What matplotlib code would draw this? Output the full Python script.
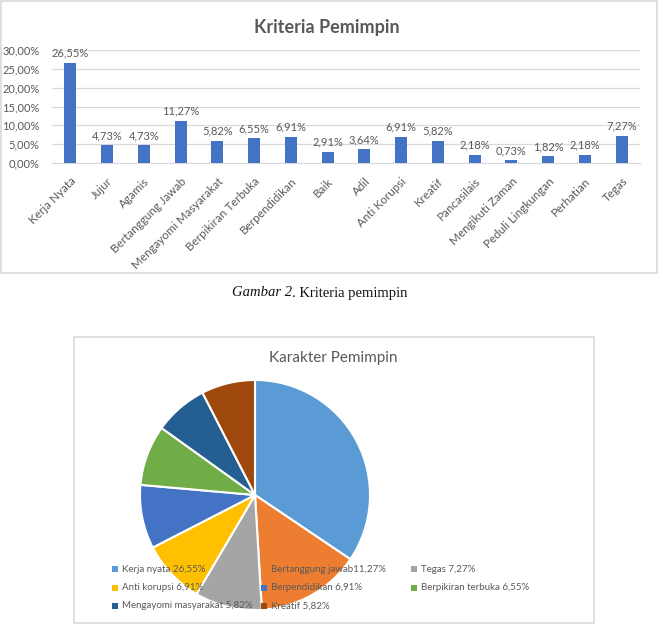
import matplotlib
matplotlib.use("Agg")
import matplotlib.pyplot as plt
from matplotlib.patches import Rectangle
from matplotlib.ticker import FuncFormatter

# ---------------- data ----------------
bar_categories = ["Kerja Nyata", "Jujur", "Agamis", "Bertanggung Jawab", "Mengayomi Masyarakat",
                  "Berpikiran Terbuka", "Berpendidikan", "Baik", "Adil", "Anti Korupsi", "Kreatif",
                  "Pancasilais", "Mengikuti Zaman", "Peduli Lingkungan", "Perhatian", "Tegas"]
bar_values = [26.55, 4.73, 4.73, 11.27, 5.82, 6.55, 6.91, 2.91, 3.64, 6.91, 5.82,
              2.18, 0.73, 1.82, 2.18, 7.27]
y_ticks = [0, 5, 10, 15, 20, 25, 30]

pie_names = ["Kerja nyata", "Bertanggung jawab", "Tegas", "Anti korupsi", "Berpendidikan",
             "Berpikiran terbuka", "Mengayomi masyarakat", "Kreatif"]
pie_values = [26.55, 11.27, 7.27, 6.91, 6.91, 6.55, 5.82, 5.82]
pie_legend_labels = ["Kerja nyata 26,55%", "Bertanggung jawab11,27%", "Tegas 7,27%",
                     "Anti korupsi 6,91%", "Berpendidikan 6,91%", "Berpikiran terbuka 6,55%",
                     "Mengayomi masyarakat 5,82%", "Kreatif 5,82%"]
pie_colors = ["#5B9BD5", "#ED7D31", "#A5A5A5", "#FFC000", "#4472C4", "#70AD47", "#255E91", "#9E480E"]

bar_title = "Kriteria Pemimpin"
pie_title = "Karakter Pemimpin"
caption_italic = "Gambar 2"
caption_rest = ". Kriteria pemimpin"

# ---------------- layout ----------------
W, H = 663, 634
FONT = "Lato"
GRAY = "#595959"
LINE = "#D9D9D9"

def fx(x):
    return x / W

def fy(y):
    return 1 - y / H

fig = plt.figure(figsize=(W / 100, H / 100), dpi=100)
fig.patch.set_facecolor("white")

# frames
fig.patches.append(Rectangle((fx(0.5), fy(273)), (657 - 0.5) / W, 272 / H, transform=fig.transFigure,
                             fill=False, edgecolor=LINE, lw=1.2, zorder=0))
fig.patches.append(Rectangle((fx(74), fy(623)), (594 - 74) / W, (623 - 337) / H, transform=fig.transFigure,
                             fill=False, edgecolor=LINE, lw=1.2, zorder=0))

# ---------------- bar chart ----------------
ax = fig.add_axes([fx(52), fy(163), (640 - 52) / W, (163 - 50) / H])
x = list(range(len(bar_categories)))
bars = ax.bar(x, bar_values, width=0.32, color="#4472C4", zorder=3)
ax.set_xlim(-0.5, len(bar_categories) - 0.5)
ax.set_ylim(0, 30)
ax.set_yticks(y_ticks)
ax.yaxis.set_major_formatter(FuncFormatter(lambda v, p: f"{v:.2f}%".replace(".", ",")))
ax.grid(axis="y", color=LINE, lw=0.9, zorder=0)
ax.set_axisbelow(True)
for s in ["top", "right", "left"]:
    ax.spines[s].set_visible(False)
ax.spines["bottom"].set_color(LINE)
ax.tick_params(axis="y", length=0, pad=9, labelsize=8, labelcolor=GRAY)
ax.tick_params(axis="x", length=0, pad=9, labelsize=8.4, labelcolor=GRAY)
ax.set_xticks(x)
ax.set_xticklabels(bar_categories, rotation=45, ha="right", va="top", rotation_mode="anchor",
                   family=FONT)
for lab in ax.get_yticklabels():
    lab.set_family(FONT)
ax.bar_label(bars, labels=[f"{v:.2f}%".replace(".", ",") for v in bar_values], padding=3,
             fontsize=8, color=GRAY, family=FONT)
fig.text(fx(327), fy(27), bar_title, ha="center", va="center", fontsize=13, fontweight="bold",
         color=GRAY, family=FONT)

# caption
t1 = fig.text(fx(232), fy(293), caption_italic, ha="left", va="center", fontsize=10.5,
              style="italic", family="Liberation Serif", color="#111111")
fig.text(0, 0, "", transform=fig.transFigure)
fig.add_artist(plt.matplotlib.text.Annotation(caption_rest, xy=(1, 0), xycoords=t1, va="bottom",
                                              ha="left", fontsize=10.5, family="Liberation Serif",
                                              color="#111111", annotation_clip=False))

# ---------------- pie chart ----------------
r = 115
cx, cy = 255, 495
ax2 = fig.add_axes([fx(cx - r), fy(cy + r), 2 * r / W, 2 * r / H])
ax2.pie(pie_values, colors=pie_colors, startangle=90, counterclock=False,
        wedgeprops=dict(edgecolor="white", linewidth=1.5))
ax2.set_xlim(-1, 1)
ax2.set_ylim(-1, 1)
ax2.set_aspect("equal")
fig.text(fx(333), fy(358), pie_title, ha="center", va="center", fontsize=11, color=GRAY, family=FONT)

col_x = [115, 264, 414]
row_y = [569, 588, 606]
for i, (lab, col) in enumerate(zip(pie_legend_labels, pie_colors)):
    c, rr = i % 3, i // 3
    mx, my = col_x[c], row_y[rr]
    fig.patches.append(Rectangle((fx(mx - 3), fy(my + 3)), 6 / W, 6 / H, transform=fig.transFigure,
                                 facecolor=col, edgecolor="none", zorder=5))
    fig.text(fx(mx + 7), fy(my), lab, ha="left", va="center", fontsize=7, color=GRAY, family=FONT,
             zorder=6)

fig.savefig("out.png", dpi=100, facecolor="white")
